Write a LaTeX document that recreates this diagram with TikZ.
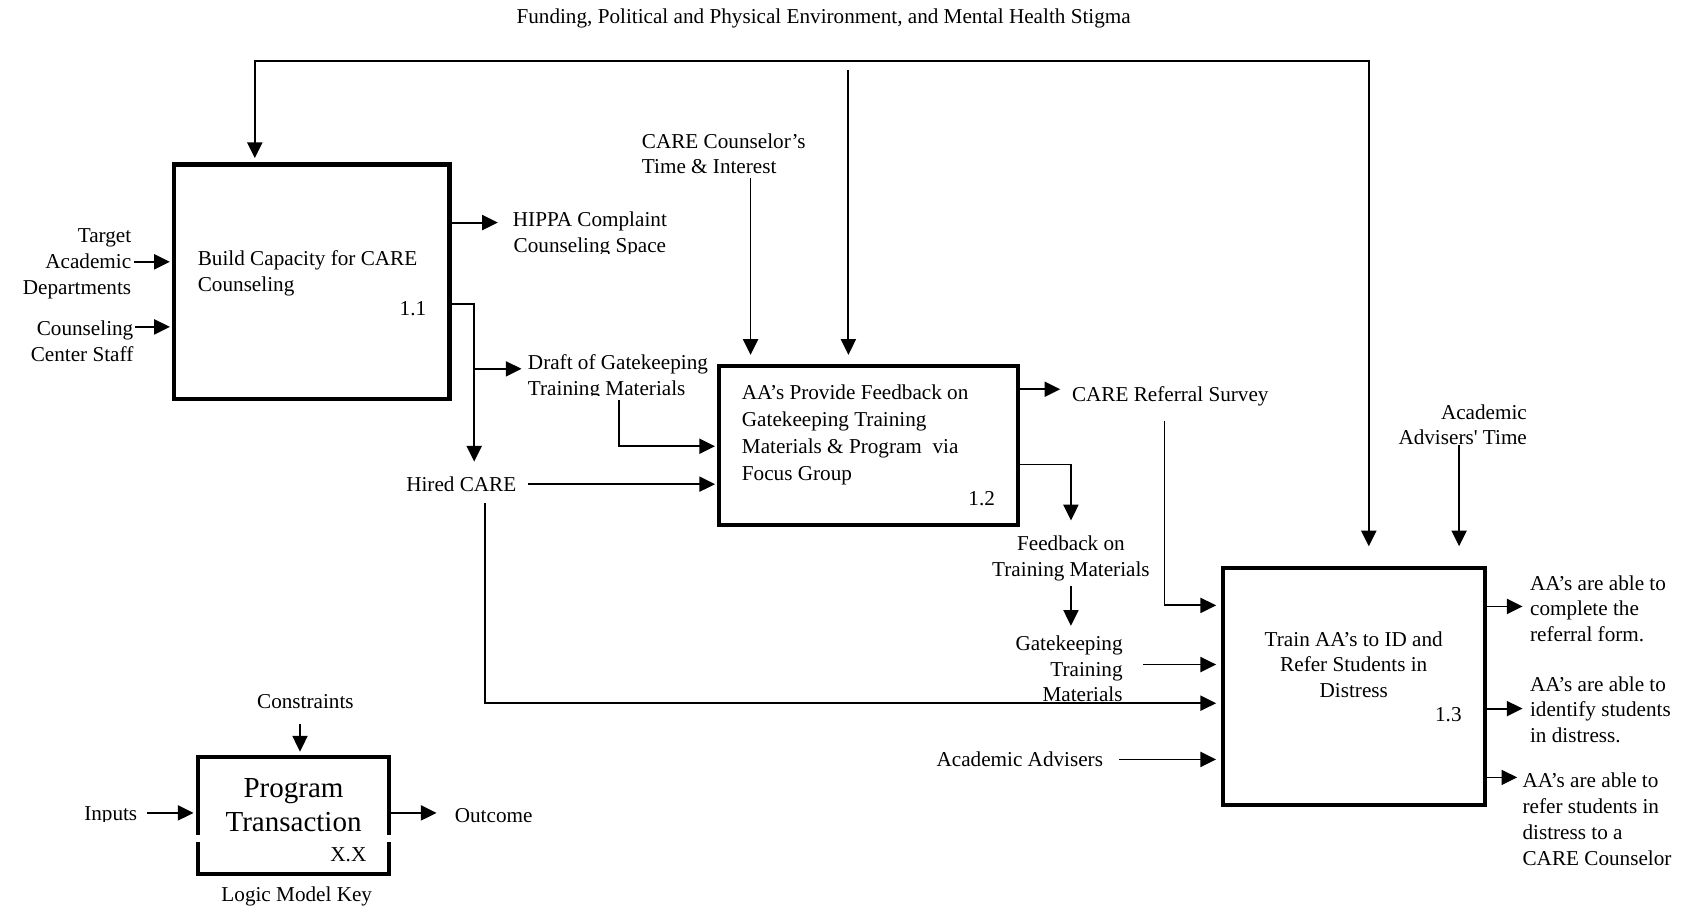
\documentclass[tikz,border=0pt]{standalone}
\usepackage{fontspec}
\setmainfont{Liberation Serif}
\usetikzlibrary{arrows.meta,calc}

\newcommand{\lmfont}{\fontsize{9.85pt}{12pt}\selectfont}
\newcommand{\wideleading}{\fontsize{9.85pt}{12.5pt}\selectfont}
\newcommand{\keyfont}{\fontsize{13.5pt}{16pt}\selectfont}

\begin{document}
\begin{tikzpicture}[x=0.5pt,y=-0.5pt,
  >={Triangle[length=7.3pt,width=7pt]},
  every node/.style={inner sep=0pt, outer sep=0pt, font=\lmfont},
  procbox/.style={draw, line width=1.9pt, inner sep=0pt},
  conn/.style={line width=0.85pt, ->},
  loopline/.style={line width=0.95pt, <->}
]
\useasboundingbox (0,0) rectangle (1568,842);

% ---------- environment heading ----------
\node[anchor=base] (env) at (766,22) {Funding, Political and Physical Environment, and Mental Health Stigma};

% ---------- process boxes ----------
\node[procbox, minimum width=128pt, minimum height=109pt]   (b11) at (290,262) {};
\node[procbox, minimum width=139pt, minimum height=74pt]    (b12) at (808,414) {};
\node[procbox, minimum width=122pt, minimum height=110.5pt] (b13) at (1259,638.5) {};
\node[procbox, minimum width=89pt,  minimum height=54.5pt]  (key) at (273,758.5) {};
% breaks in the sides of the key box
\fill[white] (179,777) rectangle (189,783);
\fill[white] (357,777) rectangle (367,783);

% ---------- box texts ----------
\node[anchor=north west, align=left] (t11) at (184,230) {\strut Build Capacity for CARE\\Counseling};
\node[anchor=base] (n11) at (384,293) {1.1};
\node[anchor=north west, align=left, font=\wideleading] (t12) at (690,354) {\strut AA’s Provide Feedback on\\Gatekeeping Training\\Materials \& Program\ \ via\\Focus Group};
\node[anchor=base] (n12) at (913,470) {1.2};
\node[anchor=north, align=center] (t13) at (1259,584) {\strut Train AA’s to ID and\\Refer Students in\\Distress};
\node[anchor=base] (n13) at (1347,671) {1.3};
\node[anchor=north, align=center, font=\keyfont] (tkey) at (273,719) {\strut Program\\Transaction};
\node[anchor=base] (nkey) at (324,801) {X.X};

% ---------- labels ----------
\node[anchor=north east, align=right] (tad) at (122,209) {\strut Target\\Academic\\Departments};
\node[anchor=north east, align=right] (ccs) at (124,295) {\strut Counseling\\Center Staff};
\begin{scope}
  \clip (470,180) rectangle (640,235.5);
  \node[anchor=north west, align=center] (hippa) at (477,194) {\strut HIPPA Complaint\\Counseling Space};
\end{scope}
\begin{scope}
  \clip (480,310) rectangle (680,368);
  \node[anchor=north west, align=left] (draft) at (491,327) {\strut Draft of Gatekeeping\\Training Materials};
\end{scope}
\node[anchor=base] (hired) at (429,457) {Hired CARE};
\node[anchor=north west, align=left] (ccti) at (597,121) {\strut CARE Counselor’s\\Time \& Interest};
\node[anchor=base west] (crs) at (997,373) {CARE Referral Survey};
\node[anchor=north, align=center] (fotm) at (996,495) {\strut Feedback on\\Training Materials};
\node[anchor=north east, align=right] (gtm) at (1044,588) {\strut Gatekeeping\\Training\\Materials};
\node[anchor=north east, align=right] (aat) at (1420,373) {\strut Academic\\Advisers\textquotesingle{} Time};
\node[anchor=base west] (aa) at (871,713) {Academic Advisers};
\node[anchor=north west, align=left] (o1) at (1423,532) {\strut AA’s are able to\\complete the\\referral form.};
\node[anchor=north west, align=left] (o2) at (1423,626) {\strut AA’s are able to\\identify students\\in distress.};
\node[anchor=north west, align=left] (o3) at (1416,716) {\strut AA’s are able to\\refer students in\\distress to a\\CARE Counselor};

% key labels
\node[anchor=base] (cons) at (284,659) {Constraints};
\begin{scope}
  \clip (60,740) rectangle (140,764);
  \node[anchor=base] (inp) at (103,763.5) {Inputs};
\end{scope}
\node[anchor=base west] (outc) at (423,765) {Outcome};
\node[anchor=base] (lmk) at (276,838) {Logic Model Key};

% ---------- connectors ----------
% environment loop across the top
\coordinate (loopL) at (237,57);
\coordinate (loopR) at (1273,57);
\draw[loopline, shorten <=3pt, shorten >=10pt] (loopL |- b11.north) -- (loopL) -- (loopR) -- (loopR |- b13.north);
\coordinate (envM) at (789,65);
\draw[conn, shorten >=5pt] (envM) -- (envM |- b12.north);

% inputs of 1.1
\draw[conn, shorten <=1.5pt, shorten >=2pt] (tad.east) -- (tad.east -| b11.west);
\draw[conn, shorten >=2pt] ($(ccs.north east)+(2,9)$) -- ($(ccs.north east -| b11.west)+(0,9)$);

% outputs of 1.1
\draw[conn, shorten >=7pt] (b11.east |- 0,207) -- (hippa.west |- 0,207);
\coordinate (j1) at (441,343);
\draw[conn, shorten >=7pt] (b11.east |- 0,283) -| (j1 |- hired.north);
\draw[conn, shorten >=3pt] (j1) -- (j1 -| draft.west);

% inputs of 1.2
\draw[conn, shorten <=2pt, shorten >=5pt] (698,0 |- ccti.south) -- (698,0 |- b12.north);
\draw[conn, shorten >=2pt] (576,0 |- draft.south) |- (b12.west |- 0,415);
\draw[conn, shorten <=5.5pt, shorten >=2pt] (hired.east) -- (hired.east -| b12.west);

% outputs of 1.2
\draw[conn, shorten >=5.5pt] (b12.east |- 0,362) -- (crs.west |- 0,362);
\draw[conn, shorten >=5.5pt] (b12.east |- 0,432) -| (fotm.north);
\draw[conn, shorten <=2.5pt, shorten >=3pt] (fotm.south) -- (fotm.south |- gtm.north);

% inputs of 1.3
\draw[conn, shorten <=7pt, shorten >=3pt] (1083,0 |- crs.south) |- (b13.west |- 0,563);
\draw[conn, shorten <=9.5pt, shorten >=3pt] (gtm.east |- 0,618) -- (b13.west |- 0,618);
\draw[conn, shorten <=5.5pt, shorten >=3pt] (451,0 |- hired.south) |- (b13.west |- 0,654);
\draw[conn, shorten <=7.5pt, shorten >=3pt] (aa.east) -- (aa.east -| b13.west);
\draw[conn, shorten >=10pt] (1357,0 |- aat.south) -- (1357,0 |- b13.north);

% outputs of 1.3
\draw[conn, shorten >=3.5pt] (b13.east |- 0,564) -- (o1.west |- 0,564);
\draw[conn, shorten >=3.5pt] (b13.east |- 0,659) -- (o2.west |- 0,659);
\draw[conn, shorten >=2.5pt] (b13.east |- 0,723) -- (o3.west |- 0,723);

% key arrows
\draw[conn, shorten <=7pt, shorten >=2.5pt] (279,0 |- cons.south) -- (279,0 |- key.north);
\draw[conn, shorten <=4.5pt, shorten >=2pt] (inp.east |- 0,756) -- (key.west |- 0,756);
\draw[conn, shorten >=8.5pt] (key.east |- 0,756) -- (outc.west |- 0,756);
\end{tikzpicture}
\end{document}
